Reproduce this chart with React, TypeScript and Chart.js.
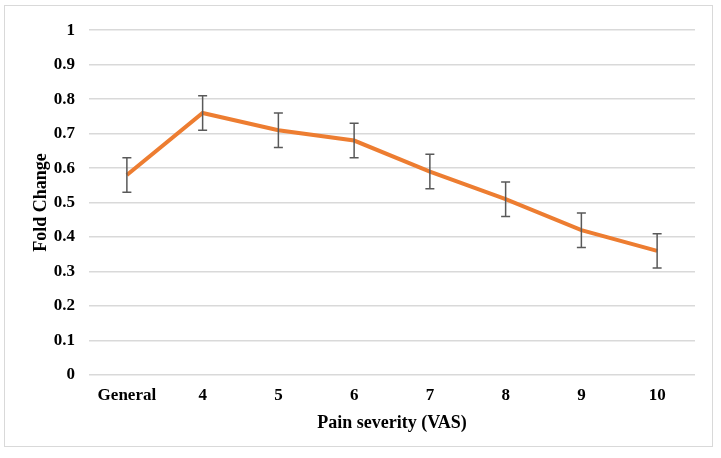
import React, { useEffect, useRef } from "react";
import { Chart, registerables } from "chart.js";

Chart.register(...registerables);

const categories = ["General", "4", "5", "6", "7", "8", "9", "10"];
const foldChange = [0.58, 0.76, 0.71, 0.68, 0.59, 0.51, 0.42, 0.36];
const errorValues = [0.05, 0.05, 0.05, 0.05, 0.05, 0.05, 0.05, 0.05];
const yTicks = [0, 0.1, 0.2, 0.3, 0.4, 0.5, 0.6, 0.7, 0.8, 0.9, 1];

const FONT = "'Liberation Serif', 'Times New Roman', serif";

const errorBarPlugin = {
  id: "errorBars",
  afterDatasetsDraw(chart: any) {
    const { ctx, scales } = chart;
    const x = scales.x;
    const y = scales.y;
    ctx.save();
    ctx.strokeStyle = "#595959";
    ctx.lineWidth = 1.5;
    const cap = 4.5;
    foldChange.forEach((v, i) => {
      const px = x.getPixelForValue(i);
      const top = y.getPixelForValue(v + errorValues[i]);
      const bot = y.getPixelForValue(v - errorValues[i]);
      ctx.beginPath();
      ctx.moveTo(px, top);
      ctx.lineTo(px, bot);
      ctx.moveTo(px - cap, top);
      ctx.lineTo(px + cap, top);
      ctx.moveTo(px - cap, bot);
      ctx.lineTo(px + cap, bot);
      ctx.stroke();
    });
    ctx.restore();
  },
};

export default function App() {
  const ref = useRef<HTMLCanvasElement>(null);
  useEffect(() => {
    if (!ref.current) return;
    const chart = new Chart(ref.current, {
      type: "line",
      data: {
        labels: categories,
        datasets: [
          {
            data: foldChange,
            borderColor: "#ED7D31",
            backgroundColor: "#ED7D31",
            borderWidth: 4,
            pointRadius: 0,
            tension: 0,
          },
        ],
      },
      options: {
        responsive: false,
        animation: false,
        layout: { padding: { top: 18, right: 17, left: 0, bottom: 0 } },
        plugins: { legend: { display: false }, tooltip: { enabled: false } },
        scales: {
          x: {
            offset: true,
            grid: { display: false },
            border: { display: false },
            ticks: {
              color: "#000",
              padding: 2,
              font: { family: FONT, size: 17, weight: "bold" },
              maxRotation: 0,
            },
            title: {
              display: true,
              text: "Pain severity (VAS)",
              color: "#000",
              font: { family: FONT, size: 18, weight: "bold" },
              padding: { top: 0, bottom: 12 },
            },
            afterFit(scale: any) {
              scale.height = 71;
            },
          },
          y: {
            min: 0,
            max: 1,
            afterBuildTicks(scale: any) {
              scale.ticks = yTicks.map((v) => ({ value: v }));
            },
            grid: { color: "#d9d9d9", lineWidth: 1.5, drawTicks: false },
            border: { display: false },
            ticks: {
              color: "#000",
              padding: 14,
              font: { family: FONT, size: 17, weight: "bold" },
              callback: (v: any) => String(Math.round(Number(v) * 10) / 10),
            },
            title: {
              display: true,
              text: "Fold Change",
              color: "#000",
              font: { family: FONT, size: 18, weight: "bold" },
              padding: { top: 26, bottom: 0 },
            },
            afterFit(scale: any) {
              scale.width = 84;
            },
          },
        },
      },
      plugins: [errorBarPlugin],
    });
    return () => chart.destroy();
  }, []);

  return (
    <div
      style={{
        position: "absolute",
        left: 4,
        top: 5,
        width: 707,
        height: 440,
        border: "1px solid #d9d9d9",
        background: "#fff",
      }}
    >
      <canvas ref={ref} width={707} height={440} style={{ display: "block" }} />
    </div>
  );
}
